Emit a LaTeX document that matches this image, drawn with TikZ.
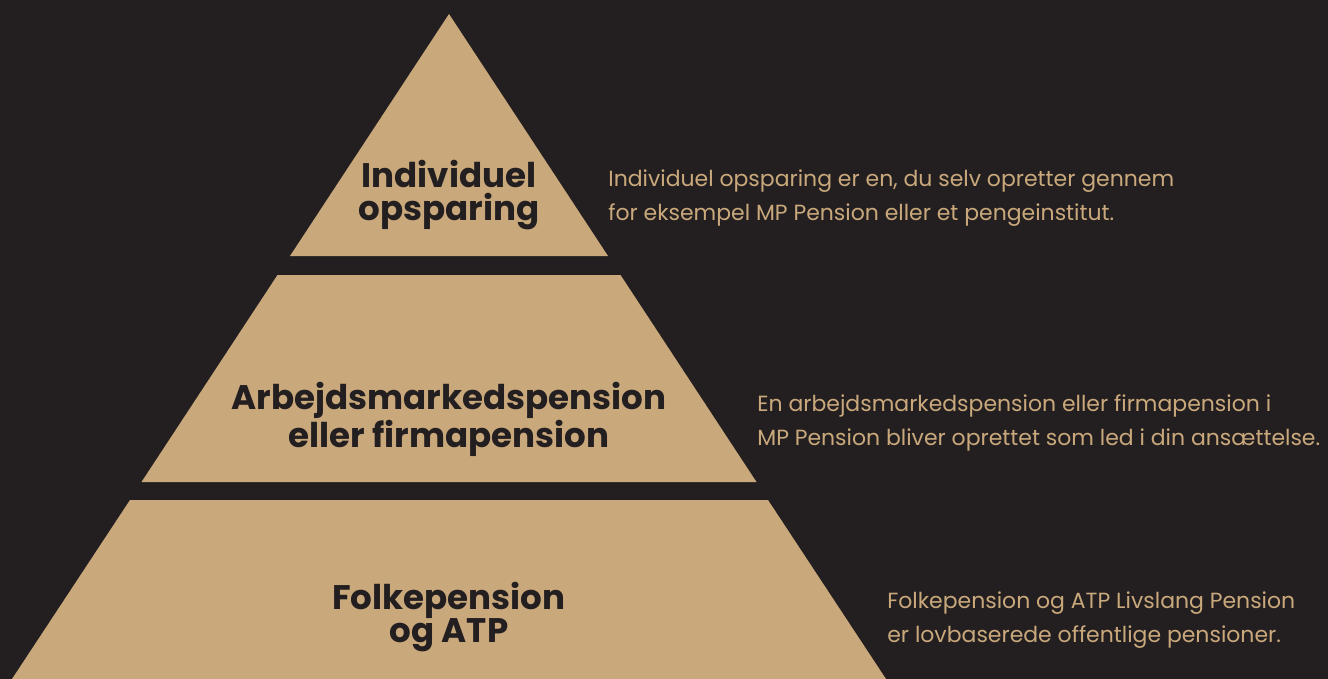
\documentclass[tikz,border=0pt]{standalone}
\usepackage{fontspec}
\setmainfont{Poppins}
\usepackage{tikz}
\definecolor{mpdark}{HTML}{231F20}
\definecolor{mptan}{HTML}{C9A87C}
\tikzset{tier/.style={fill=mptan},
  tierlabel/.style={align=center, inner sep=0pt, text=mpdark,
    font=\fontsize{19.4}{19.2}\selectfont\bfseries},
  note/.style={anchor=west, align=left, inner sep=0pt, text=mptan,
    font=\fontsize{12.5}{19.4}\selectfont}
}

\begin{document}
\begin{tikzpicture}[x=0.02cm, y=-0.02cm]
      \fill[mpdark] (0,0) rectangle (1328,679);
      \useasboundingbox (0,0) rectangle (1328,679);
      \fill[tier] (449,14) -- (608,256) -- (290,256) -- cycle;
      \fill[tier] (277.5,275) -- (620.5,275) -- (756.5,482) -- (141.5,482) -- cycle;
      \fill[tier] (130,500) -- (768,500) -- (886,679) -- (12,679) -- cycle;
      \node[tierlabel] (individuel) at (449,195) {Individuel\\opsparing};
      \node[tierlabel] (arbejde) at (449,419) {Arbejdsmarkedspension\\eller firmapension};
      \node[tierlabel] (folke) at (449,617) {Folkepension\\og ATP};
      \node[note] (individuelnote) at (608,198) {Individuel opsparing er en, du selv opretter gennem\\for eksempel MP Pension eller et pengeinstitut.};
      \node[note] (arbejdenote) at (757,423) {En arbejdsmarkedspension eller firmapension i\\MP Pension bliver oprettet som led i din ansættelse.};
      \node[note] (folkenote) at (887,620) {Folkepension og ATP Livslang Pension\\er lovbaserede offentlige pensioner.};
    \end{tikzpicture}
\end{document}
